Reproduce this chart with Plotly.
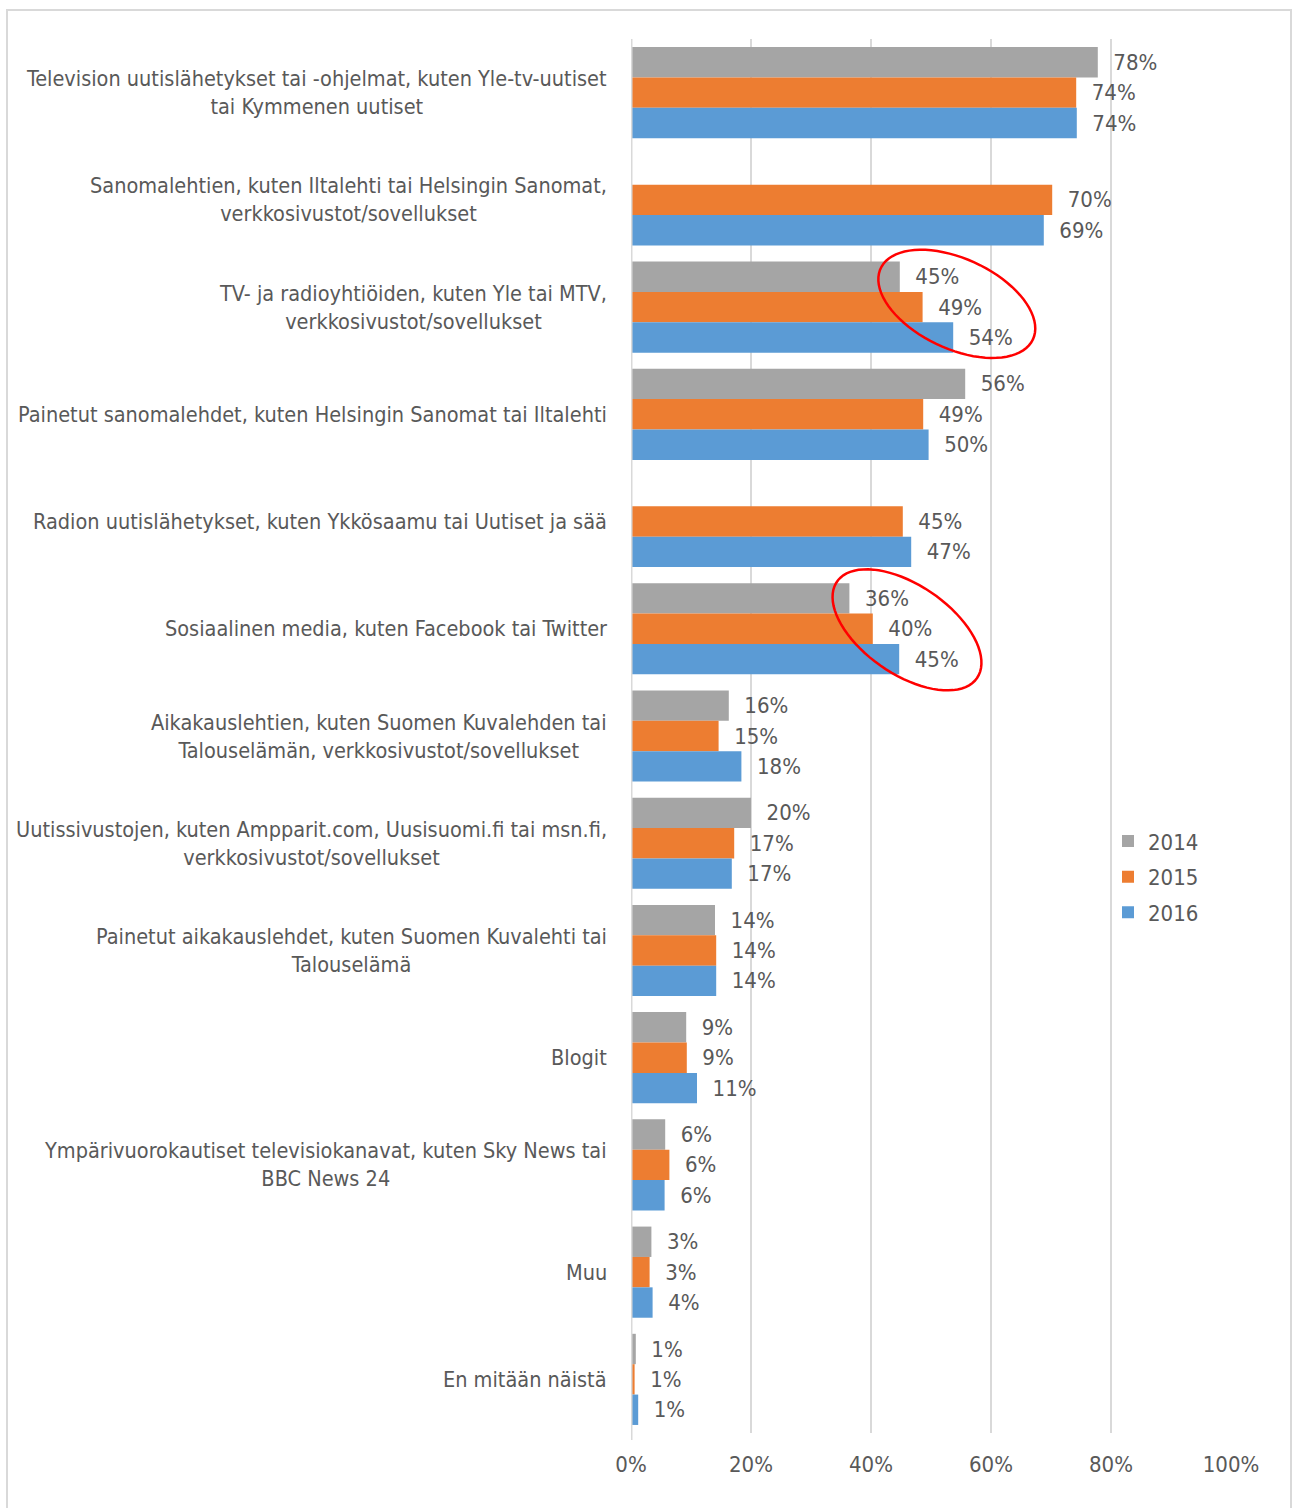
import numpy as np
import plotly.graph_objects as go

categories = [
    "Television uutislähetykset tai -ohjelmat, kuten Yle-tv-uutiset<br>tai Kymmenen uutiset",
    "Sanomalehtien, kuten Iltalehti tai Helsingin Sanomat,<br>verkkosivustot/sovellukset",
    "TV- ja radioyhtiöiden, kuten Yle tai MTV,<br>verkkosivustot/sovellukset",
    "Painetut sanomalehdet, kuten Helsingin Sanomat tai Iltalehti",
    "Radion uutislähetykset, kuten Ykkösaamu tai Uutiset ja sää",
    "Sosiaalinen media, kuten Facebook tai Twitter",
    "Aikakauslehtien, kuten Suomen Kuvalehden tai<br>Talouselämän, verkkosivustot/sovellukset",
    "Uutissivustojen, kuten Ampparit.com, Uusisuomi.fi tai msn.fi,<br>verkkosivustot/sovellukset",
    "Painetut aikakauslehdet, kuten Suomen Kuvalehti tai<br>Talouselämä",
    "Blogit",
    "Ympärivuorokautiset televisiokanavat, kuten Sky News tai<br>BBC News 24",
    "Muu",
    "En mitään näistä",
]

values_2014 = [77.8, None, 44.8, 55.7, None, 36.4, 16.3, 20.0, 14.0, 9.2, 5.7, 3.4, 0.8]
values_2015 = [74.2, 70.2, 48.6, 48.7, 45.3, 40.3, 14.6, 17.2, 14.2, 9.3, 6.4, 3.1, 0.6]
values_2016 = [74.3, 68.8, 53.7, 49.6, 46.7, 44.7, 18.4, 16.8, 14.2, 11.0, 5.6, 3.6, 1.2]

series_names = ["2014", "2015", "2016"]
series_colors = ["#a5a5a5", "#ed7d31", "#5b9bd5"]

x_ticks = [0, 20, 40, 60, 80, 100]

FONT = "Liberation Sans Narrow, DejaVu Sans Condensed, Arial Narrow, Liberation Sans, sans-serif"
TXT = "#595959"

fig = go.Figure()
for name, vals, col in zip(series_names, [values_2014, values_2015, values_2016], series_colors):
    fig.add_trace(go.Bar(
        y=categories, x=vals, name=name, orientation="h", legendgroup=name,
        marker=dict(color=col, line=dict(width=0)),
        texttemplate="  %{x:.0f}%", textposition="outside",
        outsidetextfont=dict(family=FONT, size=22, color=TXT),
        cliponaxis=False, hoverinfo="x+name",
    ))

# category labels, centred multi-line like the original
for i, c in enumerate(categories):
    fig.add_annotation(
        x=0, xref="paper", y=c, yref="y", text=c, showarrow=False,
        xanchor="right", yanchor="middle", align="center", xshift=-22,
        font=dict(family=FONT, size=21.5, color=TXT),
    )

# ellipse highlights (drawn in data coordinates: x in %, y in category index units)
def ellipse_path(cx, cy, a_px, b_px, theta_deg, px_per_x=6.0, px_per_cat=107.2, n=80):
    t = np.linspace(0, 2 * np.pi, n)
    th = np.radians(theta_deg)
    dx = a_px * np.cos(t) * np.cos(th) - b_px * np.sin(t) * np.sin(th)
    dy = a_px * np.cos(t) * np.sin(th) + b_px * np.sin(t) * np.cos(th)
    xs = cx + dx / px_per_x
    ys = cy + dy / px_per_cat
    return "M " + " L ".join(f"{x:.3f},{y:.4f}" for x, y in zip(xs, ys)) + " Z"

for (cx, cy, a, b, th) in [(54.3, 1.97, 84, 45, 25), (46.0, 5.01, 85, 44.5, 34.5)]:
    fig.add_shape(type="path", path=ellipse_path(cx, cy, a, b, th), xref="x", yref="y",
                  line=dict(color="#ff0000", width=2.5), fillcolor="rgba(0,0,0,0)", layer="above")

# outer frame
fig.add_shape(type="rect", xref="paper", yref="paper",
              x0=(7 - 631) / 600, x1=(1291 - 631) / 600,
              y0=(1433 - 1515) / 1394, y1=(1433 - 10) / 1394,
              line=dict(color="#d9d9d9", width=2), fillcolor="rgba(0,0,0,0)", layer="below")

fig.update_layout(
    width=1293, height=1508,
    margin=dict(l=631, r=62, t=39, b=75, autoexpand=False),
    paper_bgcolor="white", plot_bgcolor="white",
    barmode="group", bargap=0.15, bargroupgap=0,
    font=dict(family=FONT, size=22, color=TXT),
    showlegend=True,
    legend=dict(x=0.795, xanchor="left", y=0.399, yanchor="middle",
                traceorder="grouped", font=dict(family=FONT, size=22, color=TXT),
                itemwidth=30, bgcolor="rgba(0,0,0,0)", tracegroupgap=4),
    xaxis=dict(range=[0, 100], tickvals=x_ticks, ticktext=[f"{v}%" for v in x_ticks],
               showgrid=True, gridcolor="#d9d9d9", gridwidth=2, zeroline=False,
               showline=False, ticks="", tickfont=dict(family=FONT, size=22, color=TXT),
               ticklabelstandoff=16, automargin=False, fixedrange=True),
    yaxis=dict(categoryorder="array", categoryarray=categories, autorange="reversed",
               showticklabels=False, showgrid=False, zeroline=False,
               showline=False, ticks="", automargin=False, fixedrange=True),
)
# 0% axis line
fig.add_shape(type="line", xref="x", yref="paper", x0=0, x1=0, y0=-0.005, y1=1,
              line=dict(color="#d9d9d9", width=3), layer="above")

fig.write_html("out.html", config={"displayModeBar": False},
               post_script="document.body.style.margin='0';document.body.style.overflow='hidden';")
